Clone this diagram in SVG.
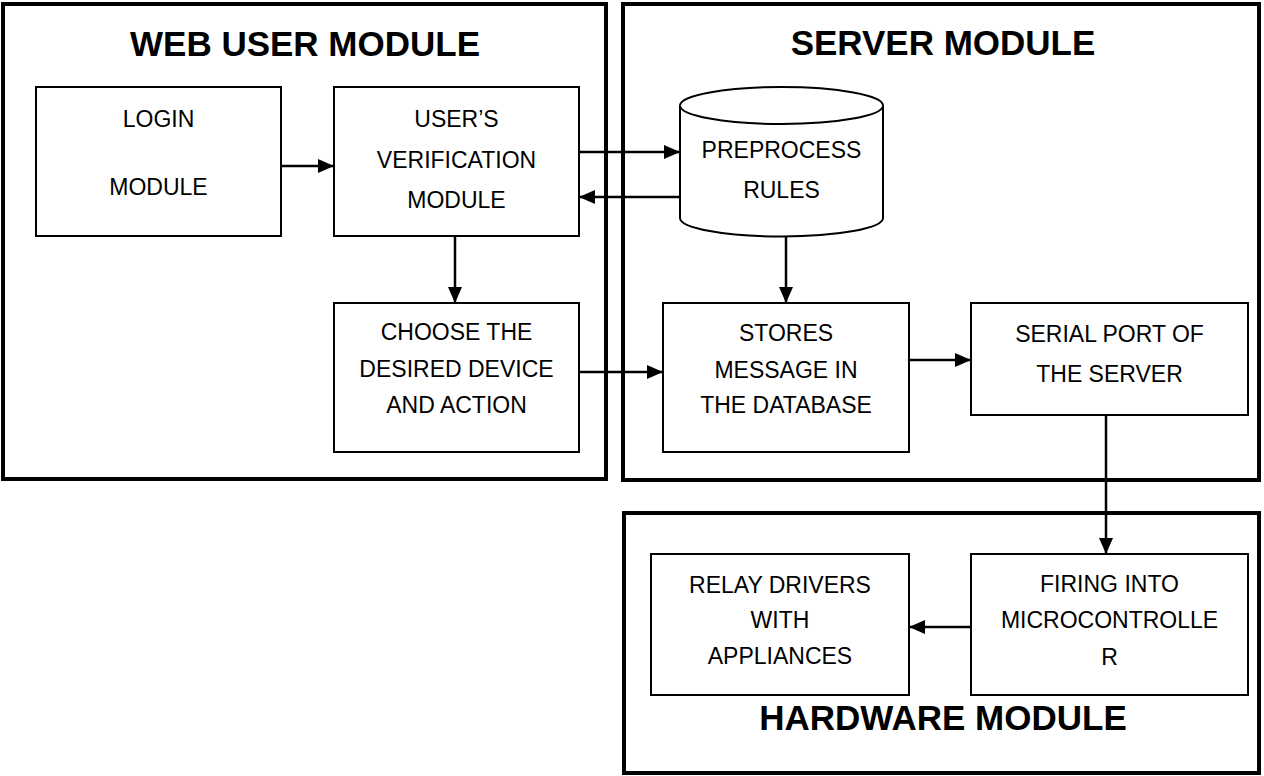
<svg xmlns="http://www.w3.org/2000/svg" width="1264" height="776" viewBox="0 0 1264 776">
  <defs>
    <marker id="arrow" markerWidth="16" markerHeight="14" refX="16" refY="7" orient="auto" markerUnits="userSpaceOnUse">
      <path d="M0,0 L16,7 L0,14 Z" fill="#000"/>
    </marker>
    <style>
      .module { fill: #fff; stroke: #000; stroke-width: 4; }
      .box { fill: #fff; stroke: #000; stroke-width: 2; }
      .title { font-family: "Liberation Sans", Arial, sans-serif; font-weight: bold; font-size: 35px; text-anchor: middle; fill: #000; }
      .label { font-family: "Liberation Sans", Arial, sans-serif; font-size: 23px; text-anchor: middle; fill: #000; }
      .conn { fill: none; stroke: #000; stroke-width: 2.5; marker-end: url(#arrow); }
    </style>
  </defs>
  <rect width="1264" height="776" fill="#fff"/>

  <!-- module frames -->
  <g id="web-user-module">
    <rect class="module" x="3" y="4" width="603" height="475"/>
    <text class="title" x="305" y="56">WEB USER MODULE</text>
  </g>
  <g id="server-module">
    <rect class="module" x="623" y="4" width="636" height="476"/>
    <text class="title" x="943" y="55">SERVER MODULE</text>
  </g>
  <g id="hardware-module">
    <rect class="module" x="624" y="513" width="635" height="260"/>
    <text class="title" x="943" y="730">HARDWARE MODULE</text>
  </g>

  <!-- process nodes -->
  <g id="login">
    <rect class="box" x="36" y="87" width="245" height="149"/>
    <text class="label" x="158.5" y="127">LOGIN</text>
    <text class="label" x="158.5" y="195">MODULE</text>
  </g>
  <g id="verification">
    <rect class="box" x="334" y="87" width="245" height="149"/>
    <text class="label" x="456.5" y="127">USER’S</text>
    <text class="label" x="456.5" y="168">VERIFICATION</text>
    <text class="label" x="456.5" y="208">MODULE</text>
  </g>
  <g id="preprocess-rules">
    <path class="box" d="M680,105.5 A101.5,18.5 0 0 1 883,105.5 L883,218 A101.5,18.5 0 0 1 680,218 Z"/>
    <path class="box" fill="none" d="M680,105.5 A101.5,18.5 0 0 0 883,105.5"/>
    <text class="label" x="781.5" y="158">PREPROCESS</text>
    <text class="label" x="781.5" y="198">RULES</text>
  </g>
  <g id="choose-device">
    <rect class="box" x="334" y="303" width="245" height="149"/>
    <text class="label" x="456.5" y="340">CHOOSE THE</text>
    <text class="label" x="456.5" y="377">DESIRED DEVICE</text>
    <text class="label" x="456.5" y="413">AND ACTION</text>
  </g>
  <g id="store-message">
    <rect class="box" x="663" y="303" width="246" height="149"/>
    <text class="label" x="786" y="341">STORES</text>
    <text class="label" x="786" y="378">MESSAGE IN</text>
    <text class="label" x="786" y="413">THE DATABASE</text>
  </g>
  <g id="serial-port">
    <rect class="box" x="971" y="303" width="277" height="112"/>
    <text class="label" x="1109.5" y="342">SERIAL PORT OF</text>
    <text class="label" x="1109.5" y="382">THE SERVER</text>
  </g>
  <g id="relay-drivers">
    <rect class="box" x="651" y="554" width="258" height="141"/>
    <text class="label" x="780" y="593">RELAY DRIVERS</text>
    <text class="label" x="780" y="628">WITH</text>
    <text class="label" x="780" y="664">APPLIANCES</text>
  </g>
  <g id="microcontroller">
    <rect class="box" x="971" y="554" width="277" height="141"/>
    <text class="label" x="1109.5" y="592">FIRING INTO</text>
    <text class="label" x="1109.5" y="628">MICROCONTROLLE</text>
    <text class="label" x="1109.5" y="665">R</text>
  </g>

  <!-- connectors -->
  <g id="connectors">
    <line class="conn" x1="281" y1="166" x2="334" y2="166"/>
    <line class="conn" x1="579" y1="152" x2="680" y2="152"/>
    <line class="conn" x1="680" y1="197" x2="579" y2="197"/>
    <line class="conn" x1="455" y1="236" x2="455" y2="303"/>
    <line class="conn" x1="579" y1="372" x2="663" y2="372"/>
    <line class="conn" x1="786" y1="236.5" x2="786" y2="303"/>
    <line class="conn" x1="909" y1="360" x2="971" y2="360"/>
    <line class="conn" x1="1106" y1="415" x2="1106" y2="554"/>
    <line class="conn" x1="971" y1="627" x2="909" y2="627"/>
  </g>
</svg>
